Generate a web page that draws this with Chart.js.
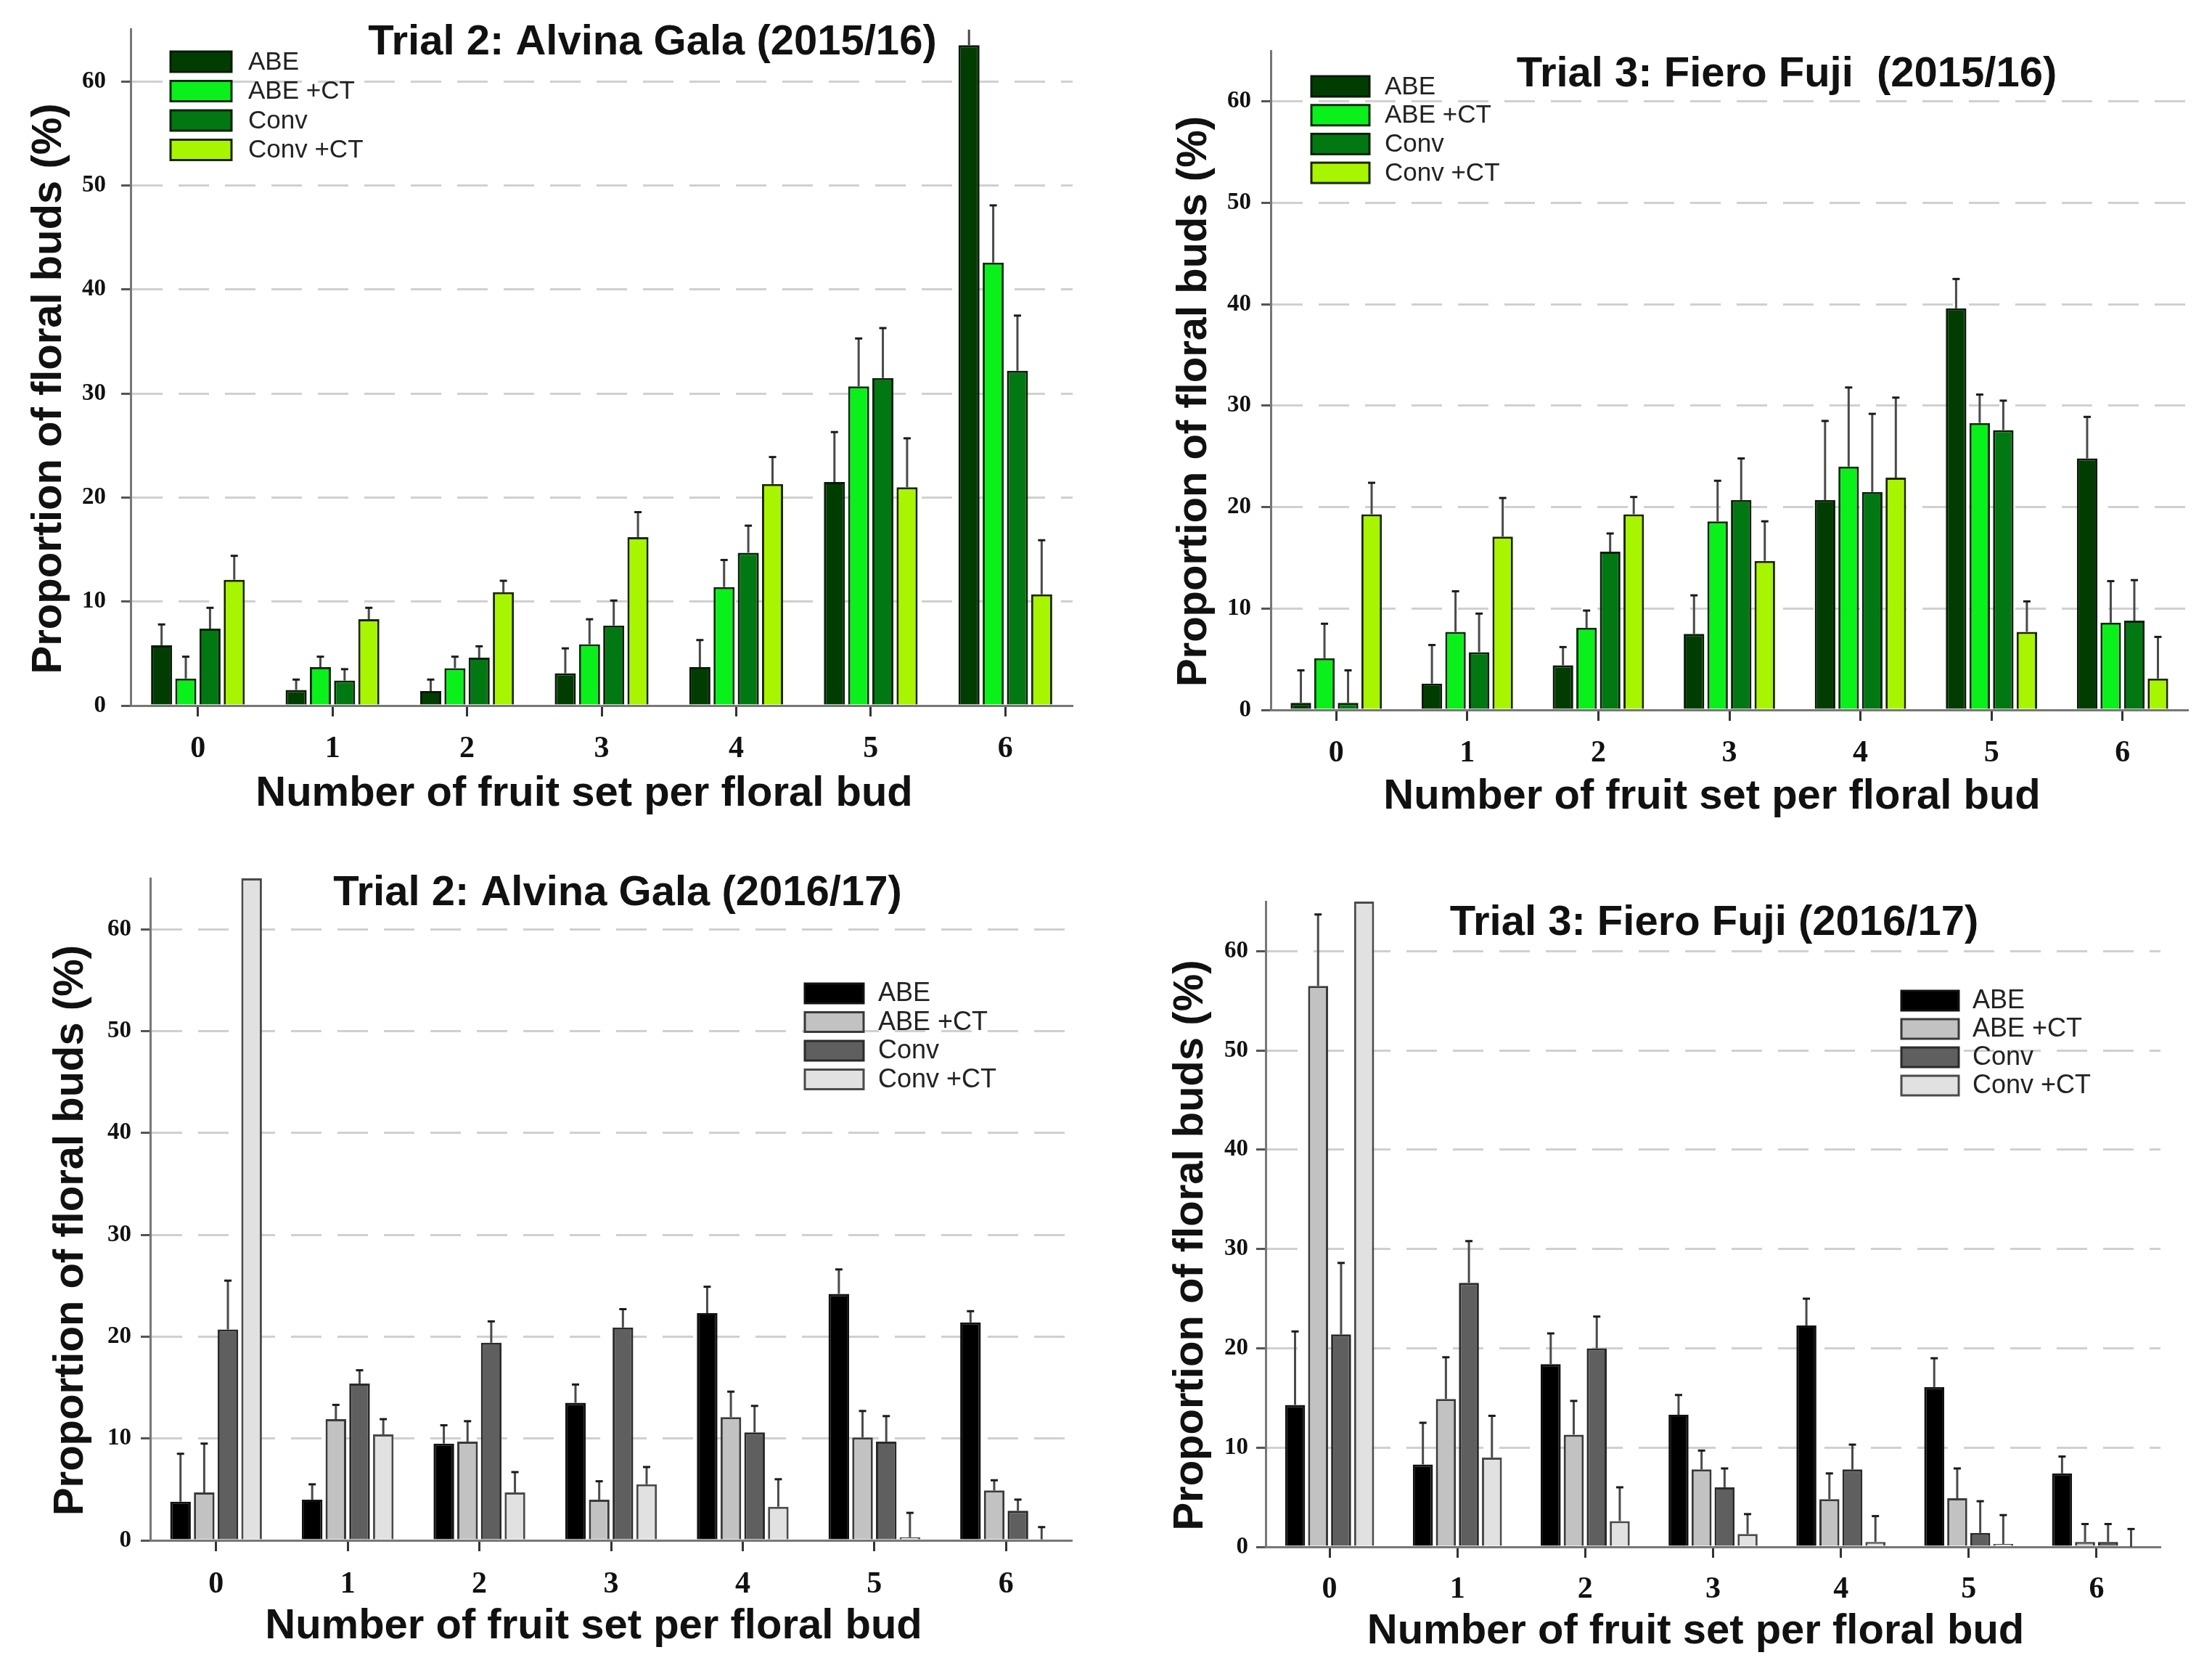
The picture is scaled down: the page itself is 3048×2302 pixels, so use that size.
<!DOCTYPE html>
<html>
<head>
<meta charset="utf-8">
<script src="https://cdn.jsdelivr.net/npm/chart.js@4.4.1/dist/chart.umd.min.js"></script>
<style>
  html, body { margin: 0; padding: 0; background: #fff; }
  #page { position: relative; width: 3048px; height: 2302px; }
  canvas { position: absolute; }
</style>
</head>
<body>
<div id="page">
  <canvas id="gala1516" width="1524" height="1150" style="left:0;top:0;width:1524px;height:1150px"></canvas>
  <canvas id="fuji1516" width="1524" height="1150" style="left:1524px;top:0;width:1524px;height:1150px"></canvas>
  <canvas id="gala1617" width="1524" height="1152" style="left:0;top:1150px;width:1524px;height:1152px"></canvas>
  <canvas id="fuji1617" width="1524" height="1152" style="left:1524px;top:1150px;width:1524px;height:1152px"></canvas>
</div>
<script>
// categories and series
const categories = ['0', '1', '2', '3', '4', '5', '6'];
const seriesLabels = ['ABE', 'ABE +CT', 'Conv', 'Conv +CT'];
const panelTitles = [
  'Trial 2: Alvina Gala (2015/16)',
  'Trial 3: Fiero Fuji  (2015/16)',
  'Trial 2: Alvina Gala (2016/17)',
  'Trial 3: Fiero Fuji (2016/17)'
];
const xTitle = 'Number of fruit set per floral bud';
const yTitle = 'Proportion of floral buds (%)';

// means (%) per series, in seriesLabels order
const gala1516Means = [
  [5.8, 1.5, 1.4, 3.1, 3.7, 21.5, 63.5],
  [2.6, 3.7, 3.6, 5.9, 11.4, 30.7, 42.6],
  [7.4, 2.4, 4.6, 7.7, 14.7, 31.5, 32.2],
  [12.1, 8.3, 10.9, 16.2, 21.3, 21.0, 10.7]
];
const gala1516Se = [
  [2.0, 1.0, 1.1, 2.4, 2.6, 4.8, 3.0],
  [2.1, 1.0, 1.1, 2.4, 2.6, 4.6, 5.5],
  [2.0, 1.1, 1.1, 2.4, 2.6, 4.8, 5.3],
  [2.3, 1.1, 1.1, 2.4, 2.6, 4.7, 5.2]
];

const fuji1516Means = [
  [0.7, 2.6, 4.4, 7.5, 20.7, 39.6, 24.8],
  [5.1, 7.7, 8.1, 18.6, 24.0, 28.3, 8.6],
  [0.7, 5.7, 15.6, 20.7, 21.5, 27.6, 8.8],
  [19.3, 17.1, 19.3, 14.7, 22.9, 7.7, 3.1]
];
const fuji1516Se = [
  [3.2, 3.8, 1.8, 3.8, 7.8, 2.9, 4.1],
  [3.4, 4.0, 1.7, 4.0, 7.8, 2.8, 4.1],
  [3.2, 3.8, 1.8, 4.1, 7.7, 2.9, 4.0],
  [3.1, 3.8, 1.7, 3.9, 7.9, 3.0, 4.1]
];

const gala1617Means = [
  [3.8, 4.0, 9.5, 13.5, 22.3, 24.2, 21.4],
  [4.7, 11.9, 9.7, 4.0, 12.1, 10.1, 4.9],
  [20.7, 15.4, 19.4, 20.9, 10.6, 9.7, 2.9],
  [65, 10.4, 4.7, 5.5, 3.3, 0.3, 0.1]
];
const gala1617Se = [
  [4.7, 1.5, 1.8, 1.8, 2.6, 2.4, 1.1],
  [4.8, 1.4, 2.0, 1.8, 2.5, 2.6, 1.0],
  [4.8, 1.3, 2.1, 1.8, 2.6, 2.5, 1.1],
  [0, 1.5, 2.0, 1.7, 2.7, 2.4, 1.2]
];

const fuji1617Means = [
  [14.3, 8.3, 18.4, 13.3, 22.3, 16.1, 7.4],
  [56.5, 14.9, 11.3, 7.8, 4.8, 4.9, 0.5],
  [21.4, 26.6, 20.0, 6.0, 7.8, 1.4, 0.5],
  [65, 9.0, 2.6, 1.3, 0.5, 0.3, 0.0]
];
const fuji1617Se = [
  [7.4, 4.2, 3.1, 2.0, 2.7, 2.9, 1.7],
  [7.2, 4.2, 3.4, 1.9, 2.6, 3.0, 1.8],
  [7.2, 4.2, 3.2, 1.9, 2.5, 3.2, 1.8],
  [0, 4.2, 3.4, 2.0, 2.6, 2.9, 1.8]
];

// colours
const greenFills = ['#013d01', '#0af01a', '#027812', '#a8f500'];
const greenEdges = ['#0a1a0a', '#0c2e0c', '#0a220a', '#1c2600'];
const grayFills = ['#000000', '#c2c2c2', '#5f5f5f', '#e1e1e1'];
const grayEdges = ['#111111', '#3a3a3a', '#2a2a2a', '#4a4a4a'];

const SANS = '"Liberation Sans", Arial, sans-serif';
const SERIF = '"Liberation Serif", "Times New Roman", serif';

// upward error bars (mean + SE)
const errorBars = {
  id: 'errorBars',
  afterDatasetsDraw(chart) {
    const ctx = chart.ctx;
    const yScale = chart.scales.y;
    ctx.save();
    ctx.lineWidth = 3;
    chart.data.datasets.forEach((ds, i) => {
      const meta = chart.getDatasetMeta(i);
      meta.data.forEach((bar, j) => {
        const se = ds.errors[j];
        if (!se) return;
        const topValue = ds.data[j] + se;
        const clipped = topValue > yScale.max;
        const yEnd = yScale.getPixelForValue(Math.min(topValue, yScale.max));
        ctx.strokeStyle = '#4a4a4a';
        ctx.beginPath();
        ctx.moveTo(bar.x, bar.y);
        ctx.lineTo(bar.x, yEnd);
        ctx.stroke();
        if (!clipped) {
          ctx.strokeStyle = '#1a1a1a';
          ctx.beginPath();
          ctx.moveTo(bar.x - 5, yEnd);
          ctx.lineTo(bar.x + 5, yEnd);
          ctx.stroke();
        }
      });
    });
    ctx.restore();
  }
};

// legend drawn inside the plot
const boxLegend = {
  id: 'boxLegend',
  afterDraw(chart, args, opts) {
    const ctx = chart.ctx;
    ctx.save();
    ctx.font = opts.fontSize + 'px ' + SANS;
    ctx.textBaseline = 'middle';
    ctx.textAlign = 'left';
    chart.data.datasets.forEach((ds, i) => {
      const y = opts.y + i * opts.rowGap;
      ctx.fillStyle = ds.backgroundColor;
      ctx.fillRect(opts.x, y, opts.boxW, opts.boxH);
      ctx.lineWidth = 3;
      ctx.strokeStyle = ds.borderColor;
      ctx.strokeRect(opts.x, y, opts.boxW, opts.boxH);
      ctx.fillStyle = '#222';
      ctx.fillText(ds.label, opts.textX, y + opts.boxH / 2 + 1);
    });
    ctx.restore();
  }
};

const panelTitle = {
  id: 'panelTitle',
  afterDraw(chart, args, opts) {
    const ctx = chart.ctx;
    ctx.save();
    ctx.font = 'bold 58px ' + SANS;
    ctx.fillStyle = '#111';
    ctx.textAlign = 'center';
    ctx.textBaseline = 'middle';
    ctx.fillText(opts.text, opts.x, opts.y);
    ctx.restore();
  }
};

// axis titles, placed relative to the chart area
const axisTitles = {
  id: 'axisTitles',
  afterDraw(chart, args, opts) {
    const { ctx, chartArea } = chart;
    ctx.save();
    ctx.font = 'bold 58px ' + SANS;
    ctx.fillStyle = '#111';
    ctx.textAlign = 'center';
    ctx.textBaseline = 'middle';
    ctx.fillText(xTitle, (chartArea.left + chartArea.right) / 2 - 24, opts.xTitleY);
    ctx.translate(opts.yTitleX, (chartArea.top + chartArea.bottom) / 2 + 29);
    ctx.rotate(-Math.PI / 2);
    ctx.fillText(yTitle, 0, 0);
    ctx.restore();
  }
};

const panels = [
  { id: 'gala1516', title: panelTitles[0], means: gala1516Means, se: gala1516Se,
    fills: greenFills, edges: greenEdges,
    area: { left: 180, right: 1478, top: 36, bottom: 972 },
    yTitleX: 68, xTitleY: 1094, xTickPad: 20, yTickPad: 21,
    titleAt: { x: 899, y: 59 },
    legend: { x: 235, y: 71, textX: 342, rowGap: 40.5, boxW: 84, boxH: 28, fontSize: 35 } },
  { id: 'fuji1516', title: panelTitles[1], means: fuji1516Means, se: fuji1516Se,
    fills: greenFills, edges: greenEdges,
    area: { left: 227, right: 1491, top: 70, bottom: 978 },
    yTitleX: 122, xTitleY: 1098, xTickPad: 20, yTickPad: 14,
    titleAt: { x: 938, y: 103 },
    legend: { x: 283, y: 105, textX: 384, rowGap: 39.7, boxW: 80, boxH: 28, fontSize: 35 } },
  { id: 'gala1617', title: panelTitles[2], means: gala1617Means, se: gala1617Se,
    fills: grayFills, edges: grayEdges,
    area: { left: 207, right: 1477, top: 60, bottom: 972 },
    yTitleX: 98, xTitleY: 1091, xTickPad: 21, yTickPad: 13,
    titleAt: { x: 851, y: 81 },
    legend: { x: 1109, y: 205, textX: 1210, rowGap: 39.5, boxW: 81, boxH: 27, fontSize: 36 } },
  { id: 'fuji1617', title: panelTitles[3], means: fuji1617Means, se: fuji1617Se,
    fills: grayFills, edges: grayEdges,
    area: { left: 220, right: 1453, top: 92, bottom: 981 },
    yTitleX: 117, xTitleY: 1098, xTickPad: 19, yTickPad: 11,
    titleAt: { x: 838, y: 122 },
    legend: { x: 1096, y: 215, textX: 1194, rowGap: 39, boxW: 79, boxH: 27, fontSize: 36 } }
];

function makeChart(p) {
  const canvas = document.getElementById(p.id);
  const W = canvas.width, H = canvas.height;
  new Chart(canvas, {
    type: 'bar',
    data: {
      labels: categories,
      datasets: seriesLabels.map((label, i) => ({
        label: label,
        data: p.means[i],
        errors: p.se[i],
        backgroundColor: p.fills[i],
        borderColor: p.edges[i],
        borderWidth: 3,
        clip: 3,
        categoryPercentage: 0.72,
        barPercentage: 0.87
      }))
    },
    options: {
      responsive: false,
      animation: false,
      devicePixelRatio: 1,
      layout: { padding: { left: 0, top: p.area.top, right: W - p.area.right, bottom: 0 } },
      scales: {
        x: {
          grid: { offset: false, drawOnChartArea: false, drawTicks: true, tickLength: 15, tickColor: '#333', tickWidth: 3 },
          border: { color: '#777', width: 3 },
          ticks: { color: '#111', padding: p.xTickPad, font: { family: SERIF, size: 42, weight: 'bold' } },
          afterFit: s => { s.height = H - p.area.bottom; }
        },
        y: {
          min: 0,
          max: 65,
          afterBuildTicks: s => { s.ticks = s.ticks.filter(t => t.value % 10 === 0); },
          ticks: { stepSize: 10, color: '#111', padding: p.yTickPad, font: { family: SERIF, size: 33, weight: 'bold' } },
          grid: {
            color: c => (c.tick && c.tick.value > 0) ? '#d0d0d0' : 'rgba(0,0,0,0)',
            lineWidth: 3, tickColor: '#555', tickWidth: 3, tickLength: 13
          },
          border: { color: '#777', width: 3, dash: [42, 22] },
          afterFit: s => { s.width = p.area.left; }
        }
      },
      plugins: {
        legend: { display: false },
        tooltip: { enabled: false },
        panelTitle: { text: p.title, x: p.titleAt.x, y: p.titleAt.y },
        axisTitles: { xTitleY: p.xTitleY, yTitleX: p.yTitleX },
        boxLegend: p.legend
      }
    },
    plugins: [errorBars, boxLegend, panelTitle, axisTitles]
  });
}

panels.forEach(makeChart);
</script>
</body>
</html>
